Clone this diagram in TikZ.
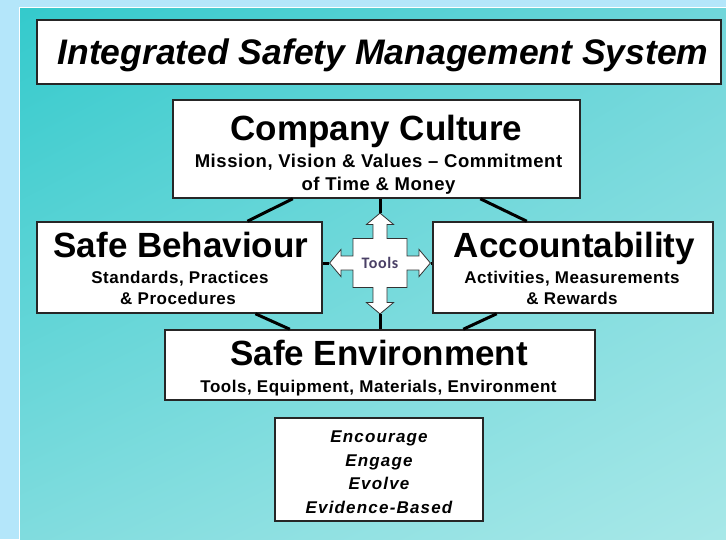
\documentclass[tikz,border=0pt]{standalone}
\usepackage{fontspec}
\setmainfont{Liberation Sans}
\newfontfamily\subfont[LetterSpace=3]{Liberation Sans}
\newfontfamily\boxfont[LetterSpace=7]{Liberation Sans}
\newfontfamily\toolfont[LetterSpace=4]{Carlito}
\usetikzlibrary{calc,shapes.arrows,shadings}

\definecolor{skyblue}{RGB}{180,230,250}
\definecolor{tealA}{RGB}{52,202,204}
\definecolor{tealB}{RGB}{112,214,218}
\definecolor{tealC}{RGB}{128,220,222}
\definecolor{tealD}{RGB}{168,232,232}
\definecolor{toolgray}{RGB}{74,64,102}

\tikzset{
	panel/.style={draw=black!85, line width=1.5pt, fill=white, inner sep=0pt},
	head/.style={anchor=base, font=\fontsize{35}{35}\selectfont\bfseries},
	sub/.style={anchor=base, font=\subfont\fontsize{17}{17}\selectfont\bfseries},
	link/.style={line width=3pt, black}
}

\begin{document}
\begin{tikzpicture}[x=1pt, y=-1pt]
		\useasboundingbox (0,0) rectangle (726,539);
		\fill[skyblue] (0,0) rectangle (726,539);
		\fill[white] (19,7) rectangle (726,539);
		\shade[upper left=tealA, upper right=tealB, lower left=tealC, lower right=tealD] (20,8) rectangle (726,539);
		
		% title
		\node[panel, minimum width=684pt, minimum height=64pt] (title) at (379,52) {};
		\node[anchor=base, font=\fontsize{35.5}{35.5}\selectfont\bfseries\itshape] (titleT) at (383,64) {Integrated Safety Management System};
		
		% the four boxes
		\node[panel, minimum width=407pt, minimum height=98pt] (culture) at (376.5,149) {};
		\node[panel, minimum width=285pt, minimum height=91pt] (behaviour) at (179.5,267.5) {};
		\node[panel, minimum width=280pt, minimum height=91pt] (account) at (573,267.5) {};
		\node[panel, minimum width=430pt, minimum height=70pt] (environment) at (380,365) {};
		\node[panel, minimum width=208pt, minimum height=103pt] (values) at (379,469.5) {};
		
		\node[head] (cultureT) at (376.5,140) {Company Culture};
		\node[sub, font=\subfont\fontsize{18.5}{18.5}\selectfont\bfseries] (cultureA) at (378.5,167) {Mission, Vision \& Values \textendash{} Commitment};
		\node[sub, font=\subfont\fontsize{18.5}{18.5}\selectfont\bfseries] (cultureB) at (378.5,190) {of Time \& Money};
		
		\node[head] (behaviourT) at (181,257) {Safe Behaviour};
		\node[sub] (behaviourA) at (180,283) {Standards, Practices};
		\node[sub] (behaviourB) at (178,304) {\& Procedures};
		
		\node[head] (accountT) at (574.5,257) {Accountability};
		\node[sub] (accountA) at (572,283) {Activities, Measurements};
		\node[sub] (accountB) at (572,304) {\& Rewards};
		
		\node[head] (environmentT) at (379,365) {Safe Environment};
		\node[sub] (environmentA) at (378.5,392) {Tools, Equipment, Materials, Environment};
		
		\foreach \word [count=\i] in {Encourage, Engage, Evolve, Evidence-Based}
			\node[anchor=base, font=\boxfont\bfseries\itshape\fontsize{17}{17}\selectfont] (values\i) at (379,419+23.5*\i) {\word};
		
		% hexagon round the cross
		\draw[link] ($(culture.south west)!0.295!(culture.south east)$) -- ($(behaviour.north west)!0.737!(behaviour.north east)$);
		\draw[link] ($(culture.south west)!0.754!(culture.south east)$) -- ($(account.north west)!0.336!(account.north east)$);
		\draw[link] ($(behaviour.south west)!0.765!(behaviour.south east)$) -- ($(environment.north west)!0.291!(environment.north east)$);
		\draw[link] ($(account.south west)!0.229!(account.south east)$) -- ($(environment.north west)!0.693!(environment.north east)$);
		
		% cross
		\node[draw=black!80, line width=0.8pt, fill=white, arrow box, inner sep=0pt,
			minimum width=54pt, minimum height=49pt,
			arrow box shaft width=14pt, arrow box head extend=6.5pt, arrow box tip angle=100,
			arrow box arrows={north:25pt, south:26pt, east:23pt, west:23pt},
			font=\toolfont\fontsize{16}{16}\selectfont\bfseries, text=toolgray] (tools) at (380,263) {Tools};
		\draw[link] (tools.north arrow tip) -- (culture.south -| tools.north arrow tip);
		\draw[link] (tools.south arrow tip) -- (environment.north -| tools.south arrow tip);
		\draw[link] (tools.west arrow tip) -- (behaviour.east |- tools.west arrow tip);
		\draw[link] (tools.east arrow tip) -- (account.west |- tools.east arrow tip);
	\end{tikzpicture}
\end{document}
